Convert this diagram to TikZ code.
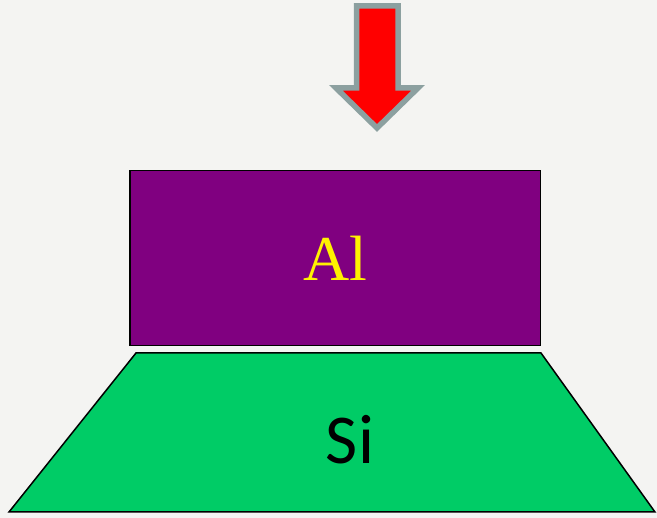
\documentclass[tikz,border=0pt]{standalone}
\usepackage{fontspec}
\setmainfont{Liberation Serif}
\newfontfamily\sifont{Carlito}
\usetikzlibrary{calc}
\definecolor{bggray}{RGB}{244,244,242}
\definecolor{arrowgray}{RGB}{140,160,160}
\definecolor{alpurple}{RGB}{128,0,128}
\definecolor{sigreen}{RGB}{0,204,102}

\begin{document}
\begin{tikzpicture}[x=1pt, y=-1pt]
		%%%%% START %%%%%
		
		\useasboundingbox (0, 0) rectangle (657, 518);
		\fill[bggray] (0, 0) rectangle (657, 518);
		
		% pressing arrow
		\draw[line width=5.5pt, color=arrowgray, fill=red, line join=miter]
			(356.5, 6) -- (398, 6) -- (398, 88) -- (418, 88) -- (377, 128)
			-- (336, 88) -- (356.5, 88) -- cycle;
		
		% Al block
		\draw[line width=1.5pt, fill=alpurple] (130, 170.5) rectangle (540.5, 345.5);
		\node[text=yellow, font=\fontsize{64}{64}\selectfont] (al) at (335, 258) {Al};
		
		% Si substrate
		\draw[line width=1.5pt, fill=sigreen, line join=miter]
			(136, 353) -- (541, 353) -- (655, 512) -- (9, 512) -- cycle;
		\node[text=black, font=\sifont\fontsize{70}{70}\selectfont] (si) at (350, 440) {Si};
		
		%%%%% END %%%%%
	\end{tikzpicture}
\end{document}
